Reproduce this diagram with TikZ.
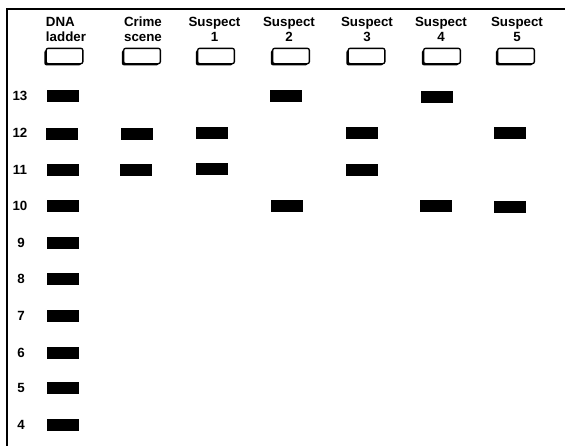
\documentclass[tikz,border=0pt]{standalone}
\usepackage{fontspec}
\setmainfont{Liberation Sans}
\usetikzlibrary{shadows}

\begin{document}
\begin{tikzpicture}[
    x=0.75pt, y=-0.75pt,
    lanelabel/.style={font=\fontsize{10}{11.3}\selectfont\bfseries, align=center, inner sep=0pt},
    sizelabel/.style={font=\fontsize{10}{11}\selectfont\bfseries, inner sep=0pt},
    well/.style={draw, fill=white, line width=1pt, rounded corners=1.5pt, minimum width=27.5pt, minimum height=11.5pt, inner sep=0pt,
        drop shadow={shadow xshift=-1.3pt, shadow yshift=-1.3pt, fill=black, opacity=1}},
    band/.style={fill=black, minimum width=23.5pt, minimum height=9.3pt, inner sep=0pt},
]

    \useasboundingbox (0,0) rectangle (565,446);

    % --- Frame ---
    \draw[line width=1.6pt] (7,446) -- (7,9) -- (565,9);

    % --- Lane labels ---
    \node[lanelabel, align=left] (lDNA) at (66,29.5) {DNA\\ladder};
    \node[lanelabel] (lcrime) at (143,29.5) {Crime\\scene};
    \node[lanelabel] (ls1) at (214.5,29.5) {Suspect\\1};
    \node[lanelabel] (ls2) at (289,29.5) {Suspect\\2};
    \node[lanelabel] (ls3) at (367,29.5) {Suspect\\3};
    \node[lanelabel] (ls4) at (441,29.5) {Suspect\\4};
    \node[lanelabel] (ls5) at (517,29.5) {Suspect\\5};

    % --- Wells ---
    \node[well] (wDNA) at (64.5,56) {};
    \node[well] (wcrime) at (142,56) {};
    \node[well] (ws1) at (216,56) {};
    \node[well] (ws2) at (291,56) {};
    \node[well] (ws3) at (366.5,56) {};
    \node[well] (ws4) at (442,56) {};
    \node[well] (ws5) at (516,56) {};

    % --- Sizes ---
    \node[sizelabel] (n13) at (20,96) {13};
    \node[sizelabel] (n12) at (20,133) {12};
    \node[sizelabel] (n11) at (20,170) {11};
    \node[sizelabel] (n10) at (20,206) {10};
    \node[sizelabel] (n9) at (21,243) {9};
    \node[sizelabel] (n8) at (21,279) {8};
    \node[sizelabel] (n7) at (21,316) {7};
    \node[sizelabel] (n6) at (21,353) {6};
    \node[sizelabel] (n5) at (21,388) {5};
    \node[sizelabel] (n4) at (21,425) {4};

    % --- Ladder bands ---
    \node[band] (d13) at (63,96) {};
    \node[band] (d12) at (62,134) {};
    \node[band] (d11) at (63,170) {};
    \node[band] (d10) at (63,206) {};
    \node[band] (d9) at (63,243) {};
    \node[band] (d8) at (63,279) {};
    \node[band] (d7) at (63,316) {};
    \node[band] (d6) at (63,353) {};
    \node[band] (d5) at (63,388) {};
    \node[band] (d4) at (63,425) {};

    % --- Sample bands ---
    % crime scene: 12, 11
    \node[band] (c12) at (137,134) {};
    \node[band] (c11) at (136,170) {};
    % suspect 1: 12, 11
    \node[band] (a12) at (212,133) {};
    \node[band] (a11) at (212,169) {};
    % suspect 2: 13, 10
    \node[band] (b13) at (286,96) {};
    \node[band] (b10) at (287,206) {};
    % suspect 3: 12, 11
    \node[band] (e12) at (362,133) {};
    \node[band] (e11) at (362,170) {};
    % suspect 4: 13, 10
    \node[band] (f13) at (437,97) {};
    \node[band] (f10) at (436,206) {};
    % suspect 5: 12, 10
    \node[band] (g12) at (510,133) {};
    \node[band] (g10) at (510,207) {};

\end{tikzpicture}
\end{document}
